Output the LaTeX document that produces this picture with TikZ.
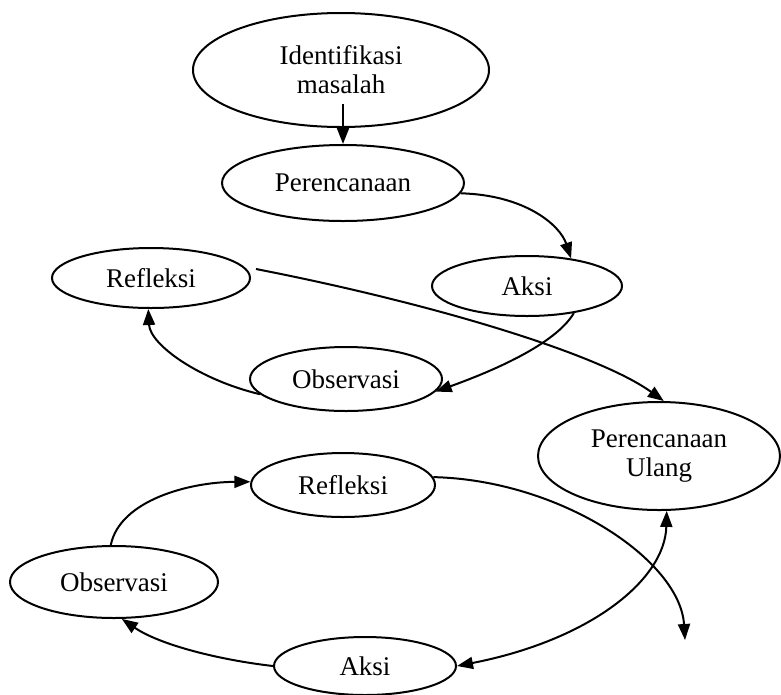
\documentclass[tikz,border=0pt]{standalone}
\usepackage{fontspec}
\setmainfont{Liberation Serif}
\usetikzlibrary{shapes.geometric,arrows.meta}
\tikzset{
  oval/.style={draw, ellipse, line width=2pt, inner sep=0pt, align=center,
    font=\fontsize{27}{29}\selectfont},
  tipA/.tip={Triangle[length=16pt,width=12pt]},
  arr/.style={line width=2pt, -tipA},
  darr/.style={line width=2pt, tipA-tipA}
}
\begin{document}
\begin{tikzpicture}[x=1pt,y=-1pt]
\useasboundingbox (0,0) rectangle (781,694);
\node[oval, minimum width=296pt, minimum height=114pt] (idm) at (341,70) {Identifikasi\\masalah};
\node[oval, minimum width=242pt, minimum height=76pt] (per) at (343,183) {Perencanaan};
\node[oval, minimum width=190pt, minimum height=60pt] (aksi1) at (527,286) {Aksi};
\node[oval, minimum width=198pt, minimum height=60pt] (ref1) at (151,278) {Refleksi};
\node[oval, minimum width=192pt, minimum height=64pt] (obs1) at (346,379) {Observasi};
\node[oval, minimum width=242pt, minimum height=108pt] (pu) at (659,456) {Perencanaan\\Ulang};
\node[oval, minimum width=184pt, minimum height=64pt] (ref2) at (343,485) {Refleksi};
\node[oval, minimum width=208pt, minimum height=72pt] (obs2) at (114,582) {Observasi};
\node[oval, minimum width=182pt, minimum height=58pt] (aksi2) at (365,666) {Aksi};
\coordinate (free) at (685,640);
\coordinate (s0) at ([yshift=24pt]idm.south);
\coordinate (r1s) at ([xshift=5pt,yshift=9pt]ref1.east);

\draw[arr] (per.north |- s0) -- (per.north);
\draw[arr] (per.-5) .. controls (525,195) and (560,225) .. (aksi1.32);
\draw[arr] (aksi1.-30) .. controls (555,345) and (490,372) .. (obs1.-8);
\draw[arr] (obs1.190) .. controls (200,380) and (150,345) .. (ref1.265);
\draw[arr] (r1s) .. controls (440,305) and (600,355) .. (pu.85);
\draw[arr] (ref2.5) .. controls (560,480) and (680,560) .. (free);
\draw[darr] (aksi2.0) .. controls (590,640) and (665,580) .. (pu.-82);
\draw[arr] (aksi2.180) .. controls (220,660) and (160,645) .. (obs2.-78);
\draw[arr] (obs2.95) .. controls (120,500) and (190,482) .. (ref2.178);
\end{tikzpicture}
\end{document}
